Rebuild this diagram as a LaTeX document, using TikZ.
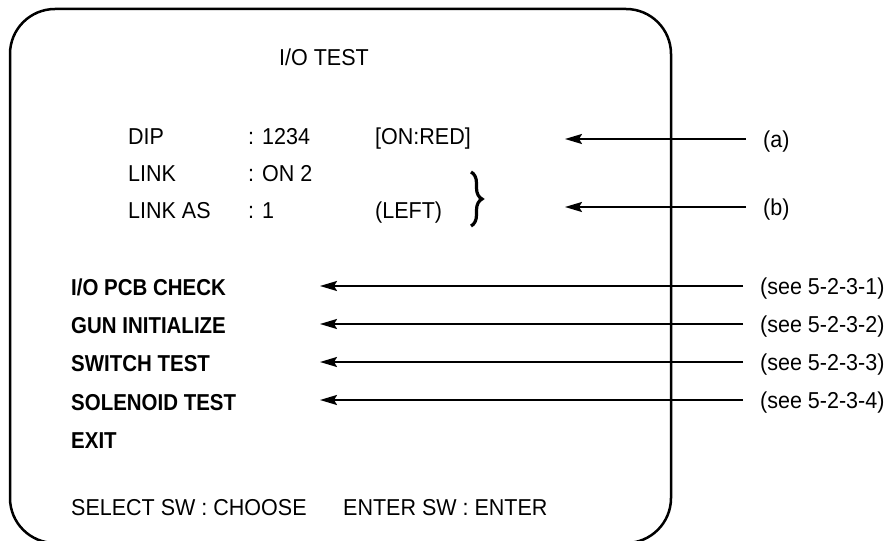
\documentclass[tikz,border=0pt]{standalone}
\usepackage{fontspec}
\setmainfont{Liberation Sans}[FakeStretch=0.935]
\newfontfamily\menufont{Liberation Sans}[FakeStretch=0.89]
\usetikzlibrary{arrows.meta,decorations.pathreplacing}
\begin{document}
\begin{tikzpicture}[x=1pt,y=-1pt,
  txt/.style={inner sep=0pt,anchor=west,text height=16.5pt,text depth=0pt,font=\fontsize{23}{26}\selectfont},
  btxt/.style={txt,font=\fontsize{23}{26}\selectfont\menufont\bfseries},
  arr/.style={line width=2pt,-{Stealth[length=17pt,width=10pt,inset=3pt]}}]
\useasboundingbox (0,0) rectangle (890,540);
\begin{scope}
\clip (0,0) rectangle (890,540);
\draw[line width=2.5pt,rounded corners=45pt] (10,9) rectangle (671,543);
\end{scope}
\node[txt,anchor=center] (title) at (324,57) {I/O TEST};
\node[txt] (dip) at (128,136) {DIP};
\node[txt] (dipv) at (248,136) {: 1234};
\node[txt] (dipn) at (375,136) {[ON:RED]};
\node[txt] (link) at (128,173) {LINK};
\node[txt] (linkv) at (248,173) {: ON 2};
\node[txt] (las) at (128,210) {LINK AS};
\node[txt] (lasv) at (248,210) {: 1};
\node[txt] (lasn) at (375,210) {(LEFT)};
\draw[line width=3.2pt,decorate,decoration={brace,amplitude=11pt}] (471,172) -- (471,226);
\node[btxt] (m1) at (71,287) {I/O PCB CHECK};
\node[btxt] (m2) at (71,325) {GUN INITIALIZE};
\node[btxt] (m3) at (71,363) {SWITCH TEST};
\node[btxt] (m4) at (71,402) {SOLENOID TEST};
\node[btxt] (m5) at (71,440) {EXIT};
\node[txt] (sel) at (71,507) {SELECT SW : CHOOSE};
\node[txt] (ent) at (343,507) {ENTER SW : ENTER};
\node[txt] (la) at (763,139) {(a)};
\node[txt] (lb) at (763,207) {(b)};
\node[txt] (s1) at (760,286) {(see 5-2-3-1)};
\node[txt] (s2) at (760,324) {(see 5-2-3-2)};
\node[txt] (s3) at (760,362) {(see 5-2-3-3)};
\node[txt] (s4) at (760,400) {(see 5-2-3-4)};
\coordinate (ta) at (565,139);
\coordinate (tb) at (565,207);
\coordinate (t1) at (320,286);
\coordinate (t2) at (320,324);
\coordinate (t3) at (320,362);
\coordinate (t4) at (320,400);
\draw[arr] (la.west) ++(-17,0) -- (ta);
\draw[arr] (lb.west) ++(-17,0) -- (tb);
\draw[arr] (s1.west) ++(-17,0) -- (t1);
\draw[arr] (s2.west) ++(-17,0) -- (t2);
\draw[arr] (s3.west) ++(-17,0) -- (t3);
\draw[arr] (s4.west) ++(-17,0) -- (t4);
\end{tikzpicture}
\end{document}
